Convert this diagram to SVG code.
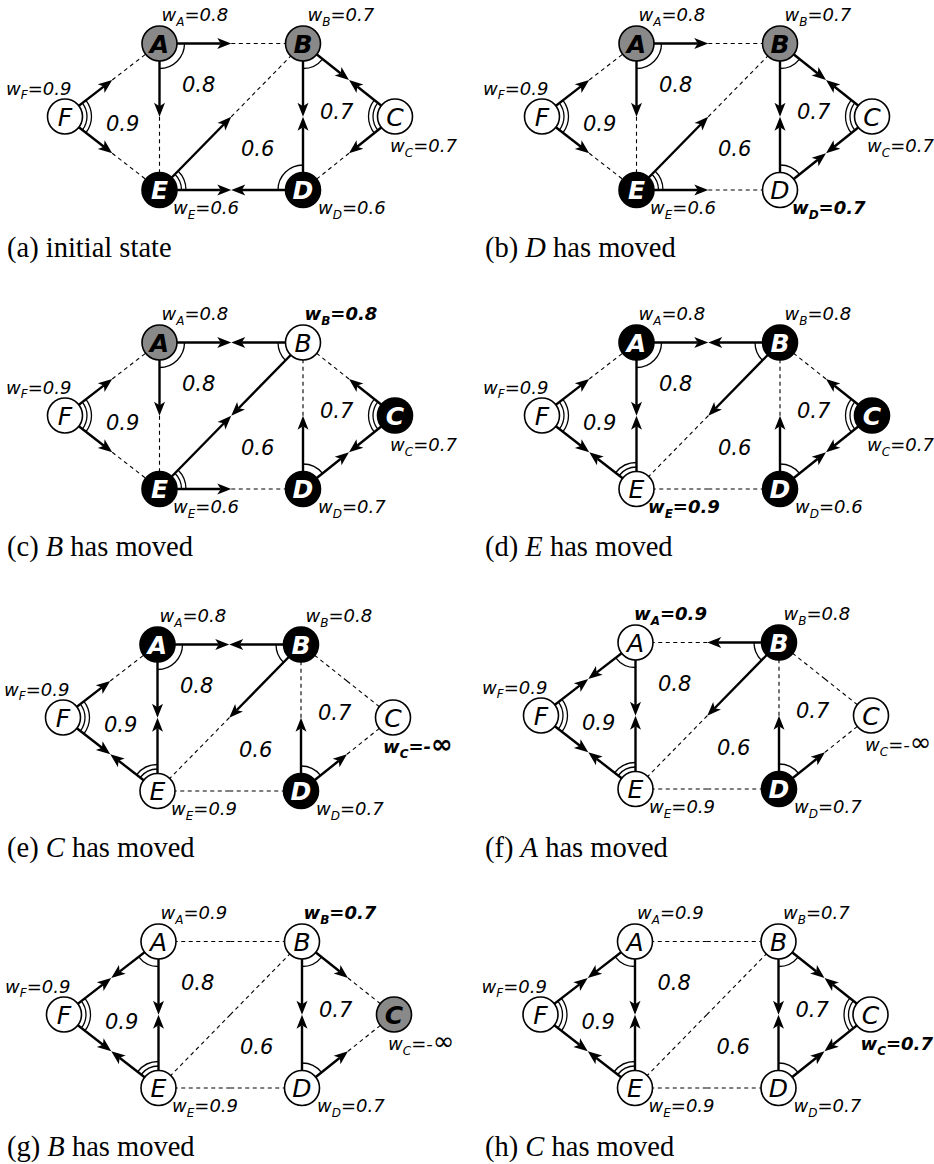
<svg xmlns="http://www.w3.org/2000/svg" xmlns:xlink="http://www.w3.org/1999/xlink" width="934" height="1164" viewBox="0 0 934 1164">
<style>
.s{stroke:#000;stroke-width:2.4;fill:none;marker-end:url(#ah)}
.d{stroke:#000;stroke-width:1.1;stroke-dasharray:4 3.5;fill:none}
.arc{stroke:#000;stroke-width:1.3;fill:none}
.nd{stroke:#000;stroke-width:1.6}
.fw{fill:#fff}.fg{fill:#898989}.fk{fill:#000}
.lt{font-family:"DejaVu Sans",sans-serif;font-style:italic;font-size:25px;text-anchor:middle}
.lr{fill:#000}.lb{font-weight:bold;fill:#000}.lwb{font-weight:bold;fill:#fff}
.w{font-family:"DejaVu Sans",sans-serif;font-style:italic;font-size:18px;fill:#000}
.wb{font-weight:bold}
.sb{font-size:12px}
.inf{font-size:26px;font-style:normal}
.f{font-family:"DejaVu Sans",sans-serif;font-style:italic;font-size:21px;fill:#000}
.cap{font-family:"Liberation Serif",serif;font-size:28.5px;fill:#000}
.it{font-style:italic}
</style>
<defs>
<marker id="ah" markerUnits="userSpaceOnUse" viewBox="0 -6 15 12" markerWidth="15" markerHeight="12" refX="3.5" refY="0" orient="auto" overflow="visible">
<path d="M14,0 L0,-5.5 L3.5,0 L0,5.5 Z" fill="#000"/>
</marker>
<!-- solid half-edges: from a node to the edge midpoint, arrow tip on the midpoint -->
<line id="sAB" class="s" x1="159.5" y1="43.5" x2="220.75" y2="43.5"/>
<line id="sBA" class="s" x1="303" y1="43.5" x2="241.75" y2="43.5"/>
<line id="sAE" class="s" x1="159.5" y1="43.5" x2="159.5" y2="106.25"/>
<line id="sEA" class="s" x1="159.5" y1="190" x2="159.5" y2="127.25"/>
<line id="sAF" class="s" x1="159.5" y1="43.5" x2="120.56" y2="73.58"/>
<line id="sFA" class="s" x1="65" y1="116.5" x2="103.94" y2="86.42"/>
<line id="sBE" class="s" x1="303" y1="43.5" x2="238.6" y2="109.25"/>
<line id="sEB" class="s" x1="159.5" y1="190" x2="223.9" y2="124.25"/>
<line id="sBD" class="s" x1="303" y1="43.5" x2="303" y2="106.25"/>
<line id="sDB" class="s" x1="303" y1="190" x2="303" y2="127.25"/>
<line id="sBC" class="s" x1="303" y1="43.5" x2="340.77" y2="73.47"/>
<line id="sCB" class="s" x1="395" y1="116.5" x2="357.23" y2="86.53"/>
<line id="sCD" class="s" x1="395" y1="116.5" x2="357.2" y2="146.7"/>
<line id="sDC" class="s" x1="303" y1="190" x2="340.8" y2="159.8"/>
<line id="sDE" class="s" x1="303" y1="190" x2="241.75" y2="190"/>
<line id="sED" class="s" x1="159.5" y1="190" x2="220.75" y2="190"/>
<line id="sEF" class="s" x1="159.5" y1="190" x2="120.54" y2="159.7"/>
<line id="sFE" class="s" x1="65" y1="116.5" x2="103.96" y2="146.8"/>
<!-- dashed half-edges: from the edge midpoint back to a node -->
<line id="dAB" class="d" x1="231.25" y1="43.5" x2="159.5" y2="43.5"/>
<line id="dBA" class="d" x1="231.25" y1="43.5" x2="303" y2="43.5"/>
<line id="dAE" class="d" x1="159.5" y1="116.75" x2="159.5" y2="43.5"/>
<line id="dEA" class="d" x1="159.5" y1="116.75" x2="159.5" y2="190"/>
<line id="dAF" class="d" x1="112.25" y1="80" x2="159.5" y2="43.5"/>
<line id="dFA" class="d" x1="112.25" y1="80" x2="65" y2="116.5"/>
<line id="dBE" class="d" x1="231.25" y1="116.75" x2="303" y2="43.5"/>
<line id="dEB" class="d" x1="231.25" y1="116.75" x2="159.5" y2="190"/>
<line id="dBD" class="d" x1="303" y1="116.75" x2="303" y2="43.5"/>
<line id="dDB" class="d" x1="303" y1="116.75" x2="303" y2="190"/>
<line id="dBC" class="d" x1="349" y1="80" x2="303" y2="43.5"/>
<line id="dCB" class="d" x1="349" y1="80" x2="395" y2="116.5"/>
<line id="dCD" class="d" x1="349" y1="153.25" x2="395" y2="116.5"/>
<line id="dDC" class="d" x1="349" y1="153.25" x2="303" y2="190"/>
<line id="dDE" class="d" x1="231.25" y1="190" x2="303" y2="190"/>
<line id="dED" class="d" x1="231.25" y1="190" x2="159.5" y2="190"/>
<line id="dEF" class="d" x1="112.25" y1="153.25" x2="159.5" y2="190"/>
<line id="dFE" class="d" x1="112.25" y1="153.25" x2="65" y2="116.5"/>
<!-- angle marks between the two chosen edges of a node -->
<path id="arcA1" class="arc" d="M184.5,43.5 A25,25 0 0 1 159.5,68.5"/>
<path id="arcA2" class="arc" d="M159.5,68.5 A25,25 0 0 1 139.71,58.78"/>
<path id="arcB1" class="arc" d="M322.58,59.04 A25,25 0 0 1 303,68.5"/>
<path id="arcB2" class="arc" d="M285.5,61.36 A25,25 0 0 1 278,43.5"/>
<path id="arcC" class="arc" d="M377.81,130.23 A22,22 0 0 1 377.77,102.82 M374.3,133.04 A26.5,26.5 0 0 1 374.24,100.03"/>
<path id="arcD1" class="arc" d="M278,190 A25,25 0 0 1 303,165"/>
<path id="arcD2" class="arc" d="M303,165 A25,25 0 0 1 322.53,174.4"/>
<path id="arcE1" class="arc" d="M174.9,174.28 A22,22 0 0 1 181.5,190 M178.04,171.07 A26.5,26.5 0 0 1 186,190"/>
<path id="arcE2" class="arc" d="M142.14,176.49 A22,22 0 0 1 159.5,168 M138.58,173.73 A26.5,26.5 0 0 1 159.5,163.5"/>
<path id="arcF" class="arc" d="M82.41,103.05 A22,22 0 0 1 82.36,130.01 M85.97,100.3 A26.5,26.5 0 0 1 85.92,132.77"/>
<!-- face weights, same in every panel -->
<g id="faces">
<text class="f" x="182" y="92">0.8</text>
<text class="f" x="106" y="131">0.9</text>
<text class="f" x="320" y="119">0.7</text>
<text class="f" x="241" y="156">0.6</text>
</g>
</defs>

<!-- (a) initial state -->
<g id="panel-a">
<g id="a-edges">
<use href="#sAB"/><use href="#dBA"/><use href="#sAE"/><use href="#dEA"/><use href="#dAF"/><use href="#sFA"/>
<use href="#dBE"/><use href="#sEB"/><use href="#sBD"/><use href="#sDB"/><use href="#sBC"/><use href="#sCB"/>
<use href="#sCD"/><use href="#dDC"/><use href="#sDE"/><use href="#sED"/><use href="#dEF"/><use href="#sFE"/>
</g>
<use href="#faces"/>
<g id="a-A"><use href="#arcA1"/><circle class="nd fg" cx="159.5" cy="43.5" r="17.5"/><text class="lt lb" x="159.5" y="52.6">A</text><text class="w" x="161.5" y="21">w<tspan class="sb" dy="4.5">A</tspan><tspan dy="-4.5">=0.8</tspan></text></g>
<g id="a-B"><use href="#arcB1"/><circle class="nd fg" cx="303" cy="43.5" r="17.5"/><text class="lt lb" x="303" y="52.6">B</text><text class="w" x="307.5" y="21">w<tspan class="sb" dy="4.5">B</tspan><tspan dy="-4.5">=0.7</tspan></text></g>
<g id="a-C"><use href="#arcC"/><circle class="nd fw" cx="395" cy="116.5" r="17.5"/><text class="lt lr" x="395" y="125.6">C</text><text class="w" x="390" y="152">w<tspan class="sb" dy="4.5">C</tspan><tspan dy="-4.5">=0.7</tspan></text></g>
<g id="a-D"><use href="#arcD1"/><circle class="nd fk" cx="303" cy="190" r="17.5"/><text class="lt lwb" x="303" y="199.1">D</text><text class="w" x="318" y="214">w<tspan class="sb" dy="4.5">D</tspan><tspan dy="-4.5">=0.6</tspan></text></g>
<g id="a-E"><use href="#arcE1"/><circle class="nd fk" cx="159.5" cy="190" r="17.5"/><text class="lt lwb" x="159.5" y="199.1">E</text><text class="w" x="173" y="214">w<tspan class="sb" dy="4.5">E</tspan><tspan dy="-4.5">=0.6</tspan></text></g>
<g id="a-F"><use href="#arcF"/><circle class="nd fw" cx="65" cy="116.5" r="17.5"/><text class="lt lr" x="65" y="125.6">F</text><text class="w" x="6" y="94.5">w<tspan class="sb" dy="4.5">F</tspan><tspan dy="-4.5">=0.9</tspan></text></g>
</g>
<text class="cap" x="7" y="257">(a) initial state</text>

<!-- (b) D has moved -->
<g id="panel-b" transform="translate(477,0)">
<g id="b-edges">
<use href="#sAB"/><use href="#dBA"/><use href="#sAE"/><use href="#dEA"/><use href="#dAF"/><use href="#sFA"/>
<use href="#dBE"/><use href="#sEB"/><use href="#sBD"/><use href="#sDB"/><use href="#sBC"/><use href="#sCB"/>
<use href="#sCD"/><use href="#sDC"/><use href="#dDE"/><use href="#sED"/><use href="#dEF"/><use href="#sFE"/>
</g>
<use href="#faces"/>
<g id="b-A"><use href="#arcA1"/><circle class="nd fg" cx="159.5" cy="43.5" r="17.5"/><text class="lt lb" x="159.5" y="52.6">A</text><text class="w" x="161.5" y="21">w<tspan class="sb" dy="4.5">A</tspan><tspan dy="-4.5">=0.8</tspan></text></g>
<g id="b-B"><use href="#arcB1"/><circle class="nd fg" cx="303" cy="43.5" r="17.5"/><text class="lt lb" x="303" y="52.6">B</text><text class="w" x="307.5" y="21">w<tspan class="sb" dy="4.5">B</tspan><tspan dy="-4.5">=0.7</tspan></text></g>
<g id="b-C"><use href="#arcC"/><circle class="nd fw" cx="395" cy="116.5" r="17.5"/><text class="lt lr" x="395" y="125.6">C</text><text class="w" x="390" y="152">w<tspan class="sb" dy="4.5">C</tspan><tspan dy="-4.5">=0.7</tspan></text></g>
<g id="b-D"><use href="#arcD2"/><circle class="nd fw" cx="303" cy="190" r="17.5"/><text class="lt lr" x="303" y="199.1">D</text><text class="w wb" x="315" y="214">w<tspan class="sb" dy="4.5">D</tspan><tspan dy="-4.5">=0.7</tspan></text></g>
<g id="b-E"><use href="#arcE1"/><circle class="nd fk" cx="159.5" cy="190" r="17.5"/><text class="lt lwb" x="159.5" y="199.1">E</text><text class="w" x="173" y="214">w<tspan class="sb" dy="4.5">E</tspan><tspan dy="-4.5">=0.6</tspan></text></g>
<g id="b-F"><use href="#arcF"/><circle class="nd fw" cx="65" cy="116.5" r="17.5"/><text class="lt lr" x="65" y="125.6">F</text><text class="w" x="6" y="94.5">w<tspan class="sb" dy="4.5">F</tspan><tspan dy="-4.5">=0.9</tspan></text></g>
</g>
<text class="cap" x="485" y="257">(b) <tspan class="it">D</tspan> has moved</text>

<!-- (c) B has moved -->
<g id="panel-c" transform="translate(0,299)">
<g id="c-edges">
<use href="#sAB"/><use href="#sBA"/><use href="#sAE"/><use href="#dEA"/><use href="#dAF"/><use href="#sFA"/>
<use href="#sBE"/><use href="#sEB"/><use href="#dBD"/><use href="#sDB"/><use href="#dBC"/><use href="#sCB"/>
<use href="#sCD"/><use href="#sDC"/><use href="#dDE"/><use href="#sED"/><use href="#dEF"/><use href="#sFE"/>
</g>
<use href="#faces"/>
<g id="c-A"><use href="#arcA1"/><circle class="nd fg" cx="159.5" cy="43.5" r="17.5"/><text class="lt lb" x="159.5" y="52.6">A</text><text class="w" x="161.5" y="21">w<tspan class="sb" dy="4.5">A</tspan><tspan dy="-4.5">=0.8</tspan></text></g>
<g id="c-B"><use href="#arcB2"/><circle class="nd fw" cx="303" cy="43.5" r="17.5"/><text class="lt lr" x="303" y="52.6">B</text><text class="w wb" x="304.5" y="21">w<tspan class="sb" dy="4.5">B</tspan><tspan dy="-4.5">=0.8</tspan></text></g>
<g id="c-C"><use href="#arcC"/><circle class="nd fk" cx="395" cy="116.5" r="17.5"/><text class="lt lwb" x="395" y="125.6">C</text><text class="w" x="390" y="152">w<tspan class="sb" dy="4.5">C</tspan><tspan dy="-4.5">=0.7</tspan></text></g>
<g id="c-D"><use href="#arcD2"/><circle class="nd fk" cx="303" cy="190" r="17.5"/><text class="lt lwb" x="303" y="199.1">D</text><text class="w" x="318" y="214">w<tspan class="sb" dy="4.5">D</tspan><tspan dy="-4.5">=0.7</tspan></text></g>
<g id="c-E"><use href="#arcE1"/><circle class="nd fk" cx="159.5" cy="190" r="17.5"/><text class="lt lwb" x="159.5" y="199.1">E</text><text class="w" x="173" y="214">w<tspan class="sb" dy="4.5">E</tspan><tspan dy="-4.5">=0.6</tspan></text></g>
<g id="c-F"><use href="#arcF"/><circle class="nd fw" cx="65" cy="116.5" r="17.5"/><text class="lt lr" x="65" y="125.6">F</text><text class="w" x="6" y="94.5">w<tspan class="sb" dy="4.5">F</tspan><tspan dy="-4.5">=0.9</tspan></text></g>
</g>
<text class="cap" x="7" y="556">(c) <tspan class="it">B</tspan> has moved</text>

<!-- (d) E has moved -->
<g id="panel-d" transform="translate(477,299)">
<g id="d-edges">
<use href="#sAB"/><use href="#sBA"/><use href="#sAE"/><use href="#sEA"/><use href="#dAF"/><use href="#sFA"/>
<use href="#sBE"/><use href="#dEB"/><use href="#dBD"/><use href="#sDB"/><use href="#dBC"/><use href="#sCB"/>
<use href="#sCD"/><use href="#sDC"/><use href="#dDE"/><use href="#dED"/><use href="#sEF"/><use href="#sFE"/>
</g>
<use href="#faces"/>
<g id="d-A"><use href="#arcA1"/><circle class="nd fk" cx="159.5" cy="43.5" r="17.5"/><text class="lt lwb" x="159.5" y="52.6">A</text><text class="w" x="161.5" y="21">w<tspan class="sb" dy="4.5">A</tspan><tspan dy="-4.5">=0.8</tspan></text></g>
<g id="d-B"><use href="#arcB2"/><circle class="nd fk" cx="303" cy="43.5" r="17.5"/><text class="lt lwb" x="303" y="52.6">B</text><text class="w" x="307.5" y="21">w<tspan class="sb" dy="4.5">B</tspan><tspan dy="-4.5">=0.8</tspan></text></g>
<g id="d-C"><use href="#arcC"/><circle class="nd fk" cx="395" cy="116.5" r="17.5"/><text class="lt lwb" x="395" y="125.6">C</text><text class="w" x="390" y="152">w<tspan class="sb" dy="4.5">C</tspan><tspan dy="-4.5">=0.7</tspan></text></g>
<g id="d-D"><use href="#arcD2"/><circle class="nd fk" cx="303" cy="190" r="17.5"/><text class="lt lwb" x="303" y="199.1">D</text><text class="w" x="318" y="214">w<tspan class="sb" dy="4.5">D</tspan><tspan dy="-4.5">=0.6</tspan></text></g>
<g id="d-E"><use href="#arcE2"/><circle class="nd fw" cx="159.5" cy="190" r="17.5"/><text class="lt lr" x="159.5" y="199.1">E</text><text class="w wb" x="171" y="214">w<tspan class="sb" dy="4.5">E</tspan><tspan dy="-4.5">=0.9</tspan></text></g>
<g id="d-F"><use href="#arcF"/><circle class="nd fw" cx="65" cy="116.5" r="17.5"/><text class="lt lr" x="65" y="125.6">F</text><text class="w" x="6" y="94.5">w<tspan class="sb" dy="4.5">F</tspan><tspan dy="-4.5">=0.9</tspan></text></g>
</g>
<text class="cap" x="485" y="556">(d) <tspan class="it">E</tspan> has moved</text>

<!-- (e) C has moved -->
<g id="panel-e" transform="translate(-2,601)">
<g id="e-edges">
<use href="#sAB"/><use href="#sBA"/><use href="#sAE"/><use href="#sEA"/><use href="#dAF"/><use href="#sFA"/>
<use href="#sBE"/><use href="#dEB"/><use href="#dBD"/><use href="#sDB"/><use href="#dBC"/><use href="#dCB"/>
<use href="#dCD"/><use href="#sDC"/><use href="#dDE"/><use href="#dED"/><use href="#sEF"/><use href="#sFE"/>
</g>
<use href="#faces"/>
<g id="e-A"><use href="#arcA1"/><circle class="nd fk" cx="159.5" cy="43.5" r="17.5"/><text class="lt lwb" x="159.5" y="52.6">A</text><text class="w" x="161.5" y="21">w<tspan class="sb" dy="4.5">A</tspan><tspan dy="-4.5">=0.8</tspan></text></g>
<g id="e-B"><use href="#arcB2"/><circle class="nd fk" cx="303" cy="43.5" r="17.5"/><text class="lt lwb" x="303" y="52.6">B</text><text class="w" x="307.5" y="21">w<tspan class="sb" dy="4.5">B</tspan><tspan dy="-4.5">=0.8</tspan></text></g>
<g id="e-C"><circle class="nd fw" cx="395" cy="116.5" r="17.5"/><text class="lt lr" x="395" y="125.6">C</text><text class="w wb" x="385" y="152">w<tspan class="sb" dy="4.5">C</tspan><tspan dy="-4.5">=-</tspan><tspan class="inf">∞</tspan></text></g>
<g id="e-D"><use href="#arcD2"/><circle class="nd fk" cx="303" cy="190" r="17.5"/><text class="lt lwb" x="303" y="199.1">D</text><text class="w" x="318" y="214">w<tspan class="sb" dy="4.5">D</tspan><tspan dy="-4.5">=0.7</tspan></text></g>
<g id="e-E"><use href="#arcE2"/><circle class="nd fw" cx="159.5" cy="190" r="17.5"/><text class="lt lr" x="159.5" y="199.1">E</text><text class="w" x="173" y="214">w<tspan class="sb" dy="4.5">E</tspan><tspan dy="-4.5">=0.9</tspan></text></g>
<g id="e-F"><use href="#arcF"/><circle class="nd fw" cx="65" cy="116.5" r="17.5"/><text class="lt lr" x="65" y="125.6">F</text><text class="w" x="6" y="94.5">w<tspan class="sb" dy="4.5">F</tspan><tspan dy="-4.5">=0.9</tspan></text></g>
</g>
<text class="cap" x="7" y="857">(e) <tspan class="it">C</tspan> has moved</text>

<!-- (f) A has moved -->
<g id="panel-f" transform="translate(476,599)">
<g id="f-edges">
<use href="#dAB"/><use href="#sBA"/><use href="#sAE"/><use href="#sEA"/><use href="#sAF"/><use href="#sFA"/>
<use href="#sBE"/><use href="#dEB"/><use href="#dBD"/><use href="#sDB"/><use href="#dBC"/><use href="#dCB"/>
<use href="#dCD"/><use href="#sDC"/><use href="#dDE"/><use href="#dED"/><use href="#sEF"/><use href="#sFE"/>
</g>
<use href="#faces"/>
<g id="f-A"><use href="#arcA2"/><circle class="nd fw" cx="159.5" cy="43.5" r="17.5"/><text class="lt lr" x="159.5" y="52.6">A</text><text class="w wb" x="158" y="21">w<tspan class="sb" dy="4.5">A</tspan><tspan dy="-4.5">=0.9</tspan></text></g>
<g id="f-B"><use href="#arcB2"/><circle class="nd fk" cx="303" cy="43.5" r="17.5"/><text class="lt lwb" x="303" y="52.6">B</text><text class="w" x="307.5" y="21">w<tspan class="sb" dy="4.5">B</tspan><tspan dy="-4.5">=0.8</tspan></text></g>
<g id="f-C"><circle class="nd fw" cx="395" cy="116.5" r="17.5"/><text class="lt lr" x="395" y="125.6">C</text><text class="w" x="389" y="152">w<tspan class="sb" dy="4.5">C</tspan><tspan dy="-4.5">=-</tspan><tspan class="inf">∞</tspan></text></g>
<g id="f-D"><use href="#arcD2"/><circle class="nd fk" cx="303" cy="190" r="17.5"/><text class="lt lwb" x="303" y="199.1">D</text><text class="w" x="318" y="214">w<tspan class="sb" dy="4.5">D</tspan><tspan dy="-4.5">=0.7</tspan></text></g>
<g id="f-E"><use href="#arcE2"/><circle class="nd fw" cx="159.5" cy="190" r="17.5"/><text class="lt lr" x="159.5" y="199.1">E</text><text class="w" x="173" y="214">w<tspan class="sb" dy="4.5">E</tspan><tspan dy="-4.5">=0.9</tspan></text></g>
<g id="f-F"><use href="#arcF"/><circle class="nd fw" cx="65" cy="116.5" r="17.5"/><text class="lt lr" x="65" y="125.6">F</text><text class="w" x="6" y="94.5">w<tspan class="sb" dy="4.5">F</tspan><tspan dy="-4.5">=0.9</tspan></text></g>
</g>
<text class="cap" x="485" y="857">(f) <tspan class="it">A</tspan> has moved</text>

<!-- (g) B has moved -->
<g id="panel-g" transform="translate(-1,898)">
<g id="g-edges">
<use href="#dAB"/><use href="#dBA"/><use href="#sAE"/><use href="#sEA"/><use href="#sAF"/><use href="#sFA"/>
<use href="#dBE"/><use href="#dEB"/><use href="#sBD"/><use href="#sDB"/><use href="#sBC"/><use href="#dCB"/>
<use href="#dCD"/><use href="#sDC"/><use href="#dDE"/><use href="#dED"/><use href="#sEF"/><use href="#sFE"/>
</g>
<use href="#faces"/>
<g id="g-A"><use href="#arcA2"/><circle class="nd fw" cx="159.5" cy="43.5" r="17.5"/><text class="lt lr" x="159.5" y="52.6">A</text><text class="w" x="161.5" y="21">w<tspan class="sb" dy="4.5">A</tspan><tspan dy="-4.5">=0.9</tspan></text></g>
<g id="g-B"><use href="#arcB1"/><circle class="nd fw" cx="303" cy="43.5" r="17.5"/><text class="lt lr" x="303" y="52.6">B</text><text class="w wb" x="304.5" y="21">w<tspan class="sb" dy="4.5">B</tspan><tspan dy="-4.5">=0.7</tspan></text></g>
<g id="g-C"><circle class="nd fg" cx="395" cy="116.5" r="17.5"/><text class="lt lb" x="395" y="125.6">C</text><text class="w" x="389" y="152">w<tspan class="sb" dy="4.5">C</tspan><tspan dy="-4.5">=-</tspan><tspan class="inf">∞</tspan></text></g>
<g id="g-D"><use href="#arcD2"/><circle class="nd fw" cx="303" cy="190" r="17.5"/><text class="lt lr" x="303" y="199.1">D</text><text class="w" x="318" y="214">w<tspan class="sb" dy="4.5">D</tspan><tspan dy="-4.5">=0.7</tspan></text></g>
<g id="g-E"><use href="#arcE2"/><circle class="nd fw" cx="159.5" cy="190" r="17.5"/><text class="lt lr" x="159.5" y="199.1">E</text><text class="w" x="173" y="214">w<tspan class="sb" dy="4.5">E</tspan><tspan dy="-4.5">=0.9</tspan></text></g>
<g id="g-F"><use href="#arcF"/><circle class="nd fw" cx="65" cy="116.5" r="17.5"/><text class="lt lr" x="65" y="125.6">F</text><text class="w" x="6" y="94.5">w<tspan class="sb" dy="4.5">F</tspan><tspan dy="-4.5">=0.9</tspan></text></g>
</g>
<text class="cap" x="7" y="1156">(g) <tspan class="it">B</tspan> has moved</text>

<!-- (h) C has moved -->
<g id="panel-h" transform="translate(475.5,898)">
<g id="h-edges">
<use href="#dAB"/><use href="#dBA"/><use href="#sAE"/><use href="#sEA"/><use href="#sAF"/><use href="#sFA"/>
<use href="#dBE"/><use href="#dEB"/><use href="#sBD"/><use href="#sDB"/><use href="#sBC"/><use href="#sCB"/>
<use href="#sCD"/><use href="#sDC"/><use href="#dDE"/><use href="#dED"/><use href="#sEF"/><use href="#sFE"/>
</g>
<use href="#faces"/>
<g id="h-A"><use href="#arcA2"/><circle class="nd fw" cx="159.5" cy="43.5" r="17.5"/><text class="lt lr" x="159.5" y="52.6">A</text><text class="w" x="161.5" y="21">w<tspan class="sb" dy="4.5">A</tspan><tspan dy="-4.5">=0.9</tspan></text></g>
<g id="h-B"><use href="#arcB1"/><circle class="nd fw" cx="303" cy="43.5" r="17.5"/><text class="lt lr" x="303" y="52.6">B</text><text class="w" x="307.5" y="21">w<tspan class="sb" dy="4.5">B</tspan><tspan dy="-4.5">=0.7</tspan></text></g>
<g id="h-C"><use href="#arcC"/><circle class="nd fw" cx="395" cy="116.5" r="17.5"/><text class="lt lr" x="395" y="125.6">C</text><text class="w wb" x="385" y="152">w<tspan class="sb" dy="4.5">C</tspan><tspan dy="-4.5">=0.7</tspan></text></g>
<g id="h-D"><use href="#arcD2"/><circle class="nd fw" cx="303" cy="190" r="17.5"/><text class="lt lr" x="303" y="199.1">D</text><text class="w" x="318" y="214">w<tspan class="sb" dy="4.5">D</tspan><tspan dy="-4.5">=0.7</tspan></text></g>
<g id="h-E"><use href="#arcE2"/><circle class="nd fw" cx="159.5" cy="190" r="17.5"/><text class="lt lr" x="159.5" y="199.1">E</text><text class="w" x="173" y="214">w<tspan class="sb" dy="4.5">E</tspan><tspan dy="-4.5">=0.9</tspan></text></g>
<g id="h-F"><use href="#arcF"/><circle class="nd fw" cx="65" cy="116.5" r="17.5"/><text class="lt lr" x="65" y="125.6">F</text><text class="w" x="6" y="94.5">w<tspan class="sb" dy="4.5">F</tspan><tspan dy="-4.5">=0.9</tspan></text></g>
</g>
<text class="cap" x="485" y="1156">(h) <tspan class="it">C</tspan> has moved</text>
</svg>
